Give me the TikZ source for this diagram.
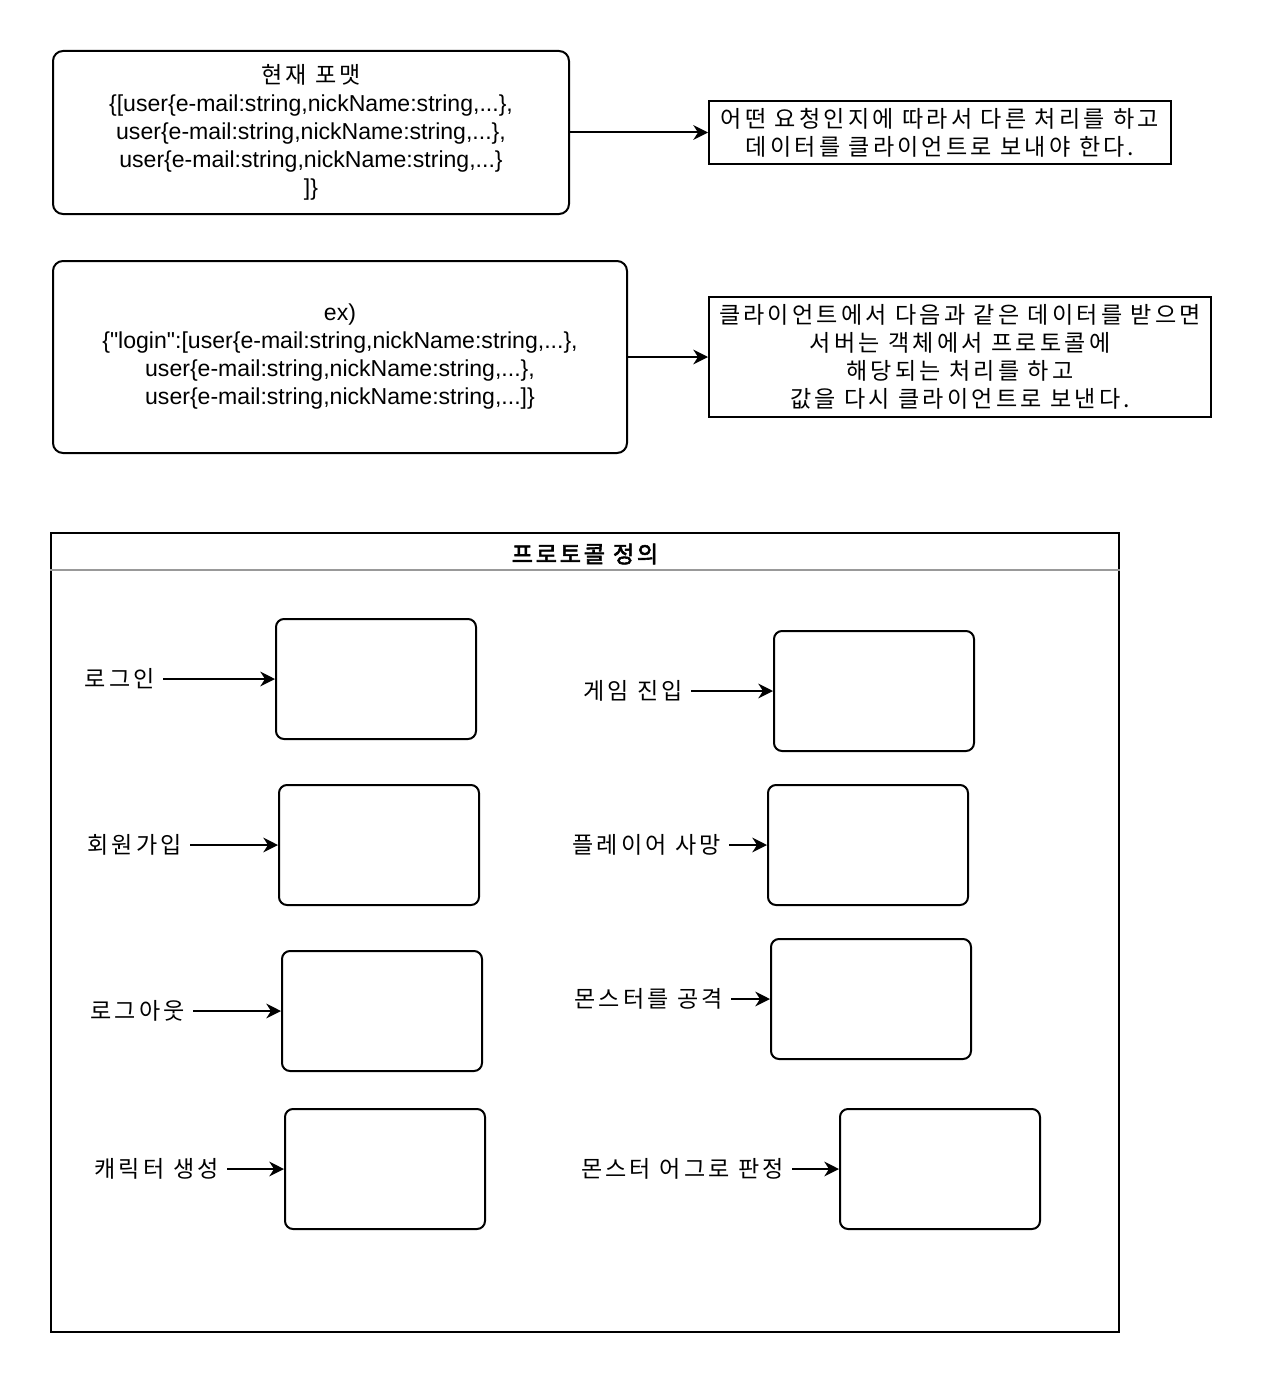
\documentclass[tikz,border=0pt]{standalone}
\usepackage{fontspec}
\setmainfont{Liberation Sans}
\newfontfamily\kr[LetterSpace=14]{Noto Sans CJK KR}
\newfontfamily\krb[FakeBold=2.5,LetterSpace=12]{Noto Sans CJK KR}
\usetikzlibrary{arrows.meta}
\newlength{\unitpx}
\setlength{\unitpx}{0.75pt}
\tikzset{
  txt/.style={font=\fontsize{17.3}{21}\selectfont, align=center},
  kr/.style={font=\kr\fontsize{17.3}{21}\selectfont, align=center},
  rbox/.style={txt, draw, line width=1.5pt, rounded corners=7.5pt},
  sbox/.style={kr, draw, line width=1.5pt, inner sep=0pt},
  pbox/.style={draw, line width=1.5pt, rounded corners=6pt,
    minimum width=200\unitpx, minimum height=120\unitpx},
  lbl/.style={kr, anchor=east, inner xsep=6pt, inner ysep=0pt},
  arr/.style={-{Stealth[length=11pt,width=11pt,inset=3.5pt]}, line width=1.5pt},
  frame/.style={draw, line width=1.5pt,
    minimum width=1068\unitpx, minimum height=799\unitpx},
  hdr/.style={draw=gray!80, line width=1.5pt},
}

\begin{document}
\begin{tikzpicture}[x=\unitpx, y=-\unitpx]
\useasboundingbox (0,0) rectangle (1262,1384);
% the format boxes
\node[rbox, minimum width=516\unitpx, minimum height=163\unitpx] (cur) at (311,132.5)
  {{\kr 현재 포맷}\\\{[user\{e-mail:string,nickName:string,...\},\\user\{e-mail:string,nickName:string,...\},\\user\{e-mail:string,nickName:string,...\}\\]\}};
\node[sbox, minimum width=462\unitpx, minimum height=63\unitpx] (note1) at (940,132.5)
  {어떤 요청인지에 따라서 다른 처리를 하고\\데이터를 클라이언트로 보내야 한다.};
\node[rbox, minimum width=574\unitpx, minimum height=192\unitpx] (ex) at (340,357)
  {ex)\\\{\textquotedbl login\textquotedbl:[user\{e-mail:string,nickName:string,...\},\\user\{e-mail:string,nickName:string,...\},\\user\{e-mail:string,nickName:string,...]\}};
\node[sbox, minimum width=502\unitpx, minimum height=120\unitpx] (note2) at (960,357)
  {클라이언트에서 다음과 같은 데이터를 받으면\\서버는 객체에서 프로토콜에\\해당되는 처리를 하고\\값을 다시 클라이언트로 보낸다.};
\draw[arr] (cur) -- (note1);
\draw[arr] (ex) -- (note2);
% the protocol frame
\node[frame] (proto) at (585,932.5) {};
\node[font=\krb\fontsize{17.3}{20}\selectfont] (ptitle) at ([yshift=-22\unitpx]proto.north) {프로토콜 정의};
\draw[hdr] ([yshift=-38\unitpx]proto.north west) -- ([yshift=-38\unitpx]proto.north east);
\foreach \nm/\sx/\bx/\yy/\txt in {login/163/376/679/로그인, join/190/379/845/회원가입,
    logout/193/382/1011/로그아웃, chara/227/385/1169/캐릭터 생성,
    enter/691/874/691/게임 진입, death/729/868/845/플레이어 사망,
    attack/731/871/999/몬스터를 공격, aggro/792/940/1169/몬스터 어그로 판정}
{
  \node[lbl] (lbl-\nm) at (\sx,\yy) {\txt};
  \node[pbox] (box-\nm) at (\bx,\yy) {};
  \draw[arr] (lbl-\nm) -- (box-\nm);
}
\end{tikzpicture}
\end{document}
